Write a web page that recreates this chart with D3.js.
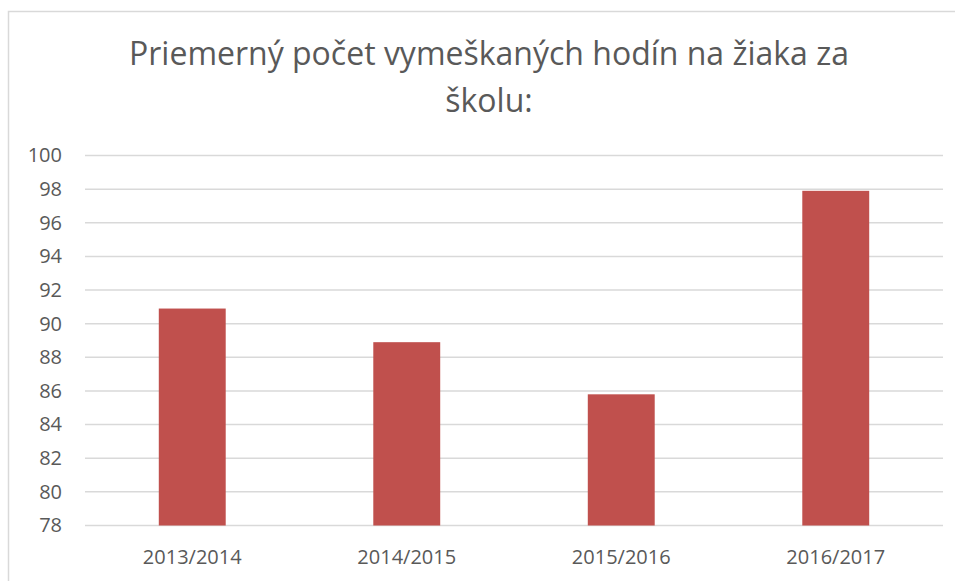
<!DOCTYPE html>
<html>
<head>
<meta charset="utf-8">
<script src="https://cdn.jsdelivr.net/npm/d3@7"></script>
<style>
  body { margin: 0; background: #fff; }
  text { font-family: "Open Sans", "Noto Sans", sans-serif; fill: #595959; }
</style>
</head>
<body>
<div id="chart"></div>
<script>
// data
var years = ["2013/2014", "2014/2015", "2015/2016", "2016/2017"];
var hours = [90.9, 88.9, 85.8, 97.9];
var yTicks = [78, 80, 82, 84, 86, 88, 90, 92, 94, 96, 98, 100];
var titleLines = ["Priemerný počet vymeškaných hodín na žiaka za", "školu:"];

var w = 955, h = 581;
var plotLeft = 85, plotRight = 943, plotTop = 155.5, plotBottom = 525.5;

var svg = d3.select("#chart")
    .append("svg")
    .attr("width", w)
    .attr("height", h);

// chart border (runs off right and bottom edge)
svg.append("rect")
    .attr("x", 8.5).attr("y", 11.5)
    .attr("width", 1000).attr("height", 1000)
    .attr("fill", "none")
    .attr("stroke", "#d9d9d9")
    .attr("stroke-width", 1.5);

var xScale = d3.scaleBand()
    .domain(years)
    .range([plotLeft, plotRight])
    .paddingInner(0.688)
    .paddingOuter(0.344);

var yScale = d3.scaleLinear()
    .domain([78, 100])
    .range([plotBottom, plotTop]);

// gridlines
svg.append("g")
    .selectAll("line")
    .data(yTicks)
    .enter()
    .append("line")
    .attr("x1", plotLeft)
    .attr("x2", plotRight)
    .attr("y1", function(d) { return yScale(d); })
    .attr("y2", function(d) { return yScale(d); })
    .attr("stroke", "#d9d9d9")
    .attr("stroke-width", 1.5);

// y axis labels
var yAxis = d3.axisLeft(yScale)
    .tickValues(yTicks)
    .tickSize(0)
    .tickPadding(23);

var yg = svg.append("g")
    .attr("transform", "translate(" + plotLeft + ",0)")
    .call(yAxis);
yg.select(".domain").remove();
yg.selectAll("text")
    .style("font-size", "20px")
    .attr("fill", "#595959")
    .style("font-family", "\"Open Sans\", sans-serif");

// bars
svg.selectAll("rect.bar")
    .data(hours)
    .enter()
    .append("rect")
    .attr("class", "bar")
    .attr("x", function(d, i) { return xScale(years[i]); })
    .attr("width", xScale.bandwidth())
    .attr("y", function(d) { return yScale(d); })
    .attr("height", function(d) { return plotBottom - yScale(d); })
    .attr("fill", "#c0504d");

// x axis labels
var xAxis = d3.axisBottom(xScale)
    .tickSize(0)
    .tickPadding(24);

var xg = svg.append("g")
    .attr("transform", "translate(0," + plotBottom + ")")
    .call(xAxis);
xg.select(".domain").remove();
xg.selectAll("text")
    .style("font-size", "20px")
    .attr("fill", "#595959")
    .style("font-family", "\"Open Sans\", sans-serif");

// title
svg.append("g")
    .selectAll("text")
    .data(titleLines)
    .enter()
    .append("text")
    .attr("x", 489)
    .attr("y", function(d, i) { return 65 + i * 47; })
    .attr("text-anchor", "middle")
    .style("font-size", "32px")
    .text(function(d) { return d; });
</script>
</body>
</html>
